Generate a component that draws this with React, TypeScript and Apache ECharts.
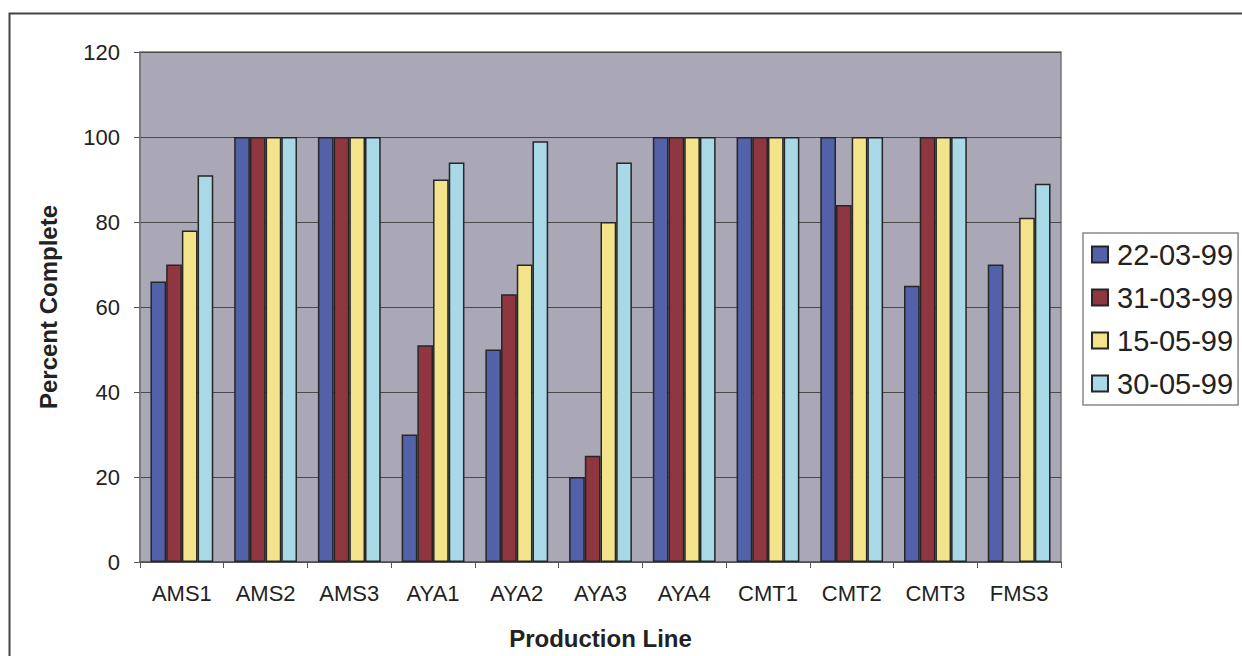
import React, { useEffect, useRef } from "react";
import * as echarts from "echarts";

const categories = ["AMS1", "AMS2", "AMS3", "AYA1", "AYA2", "AYA3", "AYA4", "CMT1", "CMT2", "CMT3", "FMS3"];
const seriesNames = ["22-03-99", "31-03-99", "15-05-99", "30-05-99"];
const s1 = [66, 100, 100, 30, 50, 20, 100, 100, 100, 65, 70];
const s2 = [70, 100, 100, 51, 63, 25, 100, 100, 84, 100, null];
const s3 = [78, 100, 100, 90, 70, 80, 100, 100, 100, 100, 81];
const s4 = [91, 100, 100, 94, 99, 94, 100, 100, 100, 100, 89];
const seriesData = [s1, s2, s3, s4];
const colors = ["#5261a8", "#8f3640", "#f3e48c", "#a9d9e6"];

export default function App() {
  const ref = useRef<HTMLDivElement>(null);
  useEffect(() => {
    if (!ref.current) return;
    const chart = echarts.init(ref.current, null, { renderer: "svg" });
    chart.setOption({
      animation: false,
      backgroundColor: "#ffffff",
      textStyle: { fontFamily: "Liberation Sans, Arial, sans-serif" },
      graphic: [
        {
          type: "rect",
          shape: { x: 9.5, y: 13.5, width: 1300, height: 700 },
          style: { fill: "none", stroke: "#444", lineWidth: 2 },
          silent: true,
        },
      ],
      grid: {
        left: 140,
        top: 52,
        width: 921,
        height: 510,
        show: true,
        backgroundColor: "#aaa7b6",
        borderColor: "#777",
        borderWidth: 1.5,
      },
      legend: {
        orient: "vertical",
        left: 1083,
        top: 233,
        padding: [7, 5, 7, 8],
        itemWidth: 16,
        itemHeight: 16,
        itemGap: 14,
        icon: "rect",
        borderColor: "#888",
        borderWidth: 1.5,
        backgroundColor: "#fff",
        textStyle: {
          fontSize: 29,
          color: "#222",
          lineHeight: 27,
          padding: [0, 0, 0, 4],
          fontFamily: "Liberation Sans, Arial, sans-serif",
        },
        data: seriesNames,
      },
      xAxis: {
        type: "category",
        data: categories,
        name: "Production Line",
        nameLocation: "middle",
        nameGap: 64,
        nameTextStyle: { fontSize: 24, fontWeight: "bold", color: "#222" },
        axisLine: { lineStyle: { color: "#555", width: 1.5 } },
        axisTick: { show: true, length: 6, lineStyle: { color: "#555" } },
        axisLabel: { fontSize: 22, color: "#222", margin: 20 },
      },
      yAxis: {
        type: "value",
        min: 0,
        max: 120,
        interval: 20,
        name: "Percent Complete",
        nameLocation: "middle",
        nameGap: 80,
        nameTextStyle: { fontSize: 24, fontWeight: "bold", color: "#222" },
        axisLine: { show: true, lineStyle: { color: "#777", width: 1.5 } },
        axisTick: { show: true, length: 6, lineStyle: { color: "#555" } },
        axisLabel: { fontSize: 22, color: "#222", margin: 20 },
        splitLine: { lineStyle: { color: "#4a4a4a", width: 1 } },
      },
      series: seriesNames.map((name, i) => ({
        name,
        type: "bar",
        data: seriesData[i],
        barGap: "0%",
        barCategoryGap: "25%",
        itemStyle: { color: colors[i], borderColor: "#262626", borderWidth: 1.5 },
      })),
    });
    return () => chart.dispose();
  }, []);
  return <div ref={ref} style={{ position: "fixed", left: 0, top: 0, width: 1242, height: 656 }} />;
}
